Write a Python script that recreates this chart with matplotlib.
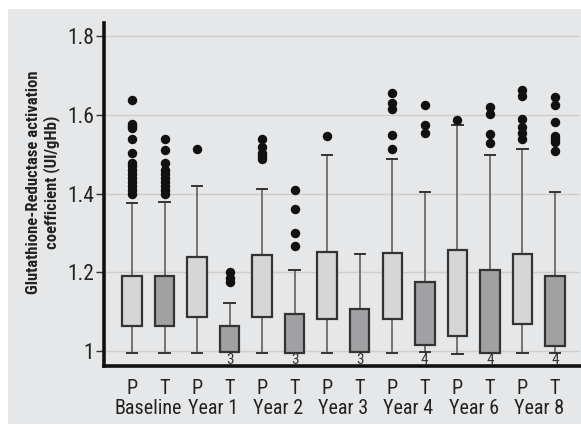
import matplotlib
matplotlib.use("Agg")
import matplotlib.pyplot as plt
from matplotlib import font_manager
from matplotlib.patches import Rectangle
from matplotlib.transforms import blended_transform_factory

# fuente estrecha si existe
fonts = [(f.name, f.stretch) for f in font_manager.fontManager.ttflist]
names = set(n for n, s in fonts)
font = "Liberation Sans"
for cand in ["Liberation Sans Narrow", "Roboto Condensed", "Open Sans Condensed"]:
    if cand in names:
        font = cand
        break
else:
    if any(n == "DejaVu Sans" and s == "condensed" for n, s in fonts):
        font = "DejaVu Sans"
        plt.rcParams['font.stretch'] = "condensed"
plt.rcParams['font.family'] = [font, 'DejaVu Sans']

# Grupos y tratamientos
groups = ["Baseline", "Year 1", "Year 2", "Year 3", "Year 4", "Year 6", "Year 8"]
arms = ["P", "T"]

# Estadisticos de cada caja (P y T alternados por grupo)
q1 = [1.063, 1.064, 1.086, 0.998, 1.086, 0.996, 1.081, 0.997, 1.081, 1.016, 1.039, 0.996, 1.069, 1.013]
med = [1.128, 1.128, 1.149, 1.031, 1.144, 1.021, 1.150, 1.048, 1.149, 1.064, 1.135, 1.043, 1.137, 1.086]
q3 = [1.191, 1.191, 1.238, 1.064, 1.245, 1.093, 1.252, 1.108, 1.250, 1.176, 1.257, 1.207, 1.247, 1.191]
wlo = [0.995, 0.995, 0.995, 0.998, 0.995, 0.996, 0.995, 0.997, 0.995, 0.998, 0.992, 0.996, 0.995, 0.994]
whi = [1.377, 1.379, 1.420, 1.122, 1.412, 1.206, 1.497, 1.247, 1.488, 1.405, 1.574, 1.498, 1.513, 1.403]
fliers = [
    [1.398, 1.41, 1.42, 1.43, 1.44, 1.45, 1.46, 1.47, 1.478, 1.502, 1.540, 1.567, 1.572, 1.577, 1.638],
    [1.398, 1.41, 1.42, 1.43, 1.44, 1.45, 1.46, 1.477, 1.511, 1.538],
    [1.513],
    [1.175, 1.185, 1.200],
    [1.487, 1.495, 1.502, 1.519, 1.538],
    [1.267, 1.299, 1.360, 1.409],
    [1.547],
    [],
    [1.514, 1.548, 1.615, 1.631, 1.656],
    [1.553, 1.574, 1.625],
    [1.587],
    [1.529, 1.551, 1.602, 1.621],
    [1.538, 1.555, 1.570, 1.589, 1.648, 1.663],
    [1.509, 1.532, 1.538, 1.546, 1.583, 1.624, 1.646],
]
# numero de valores en el minimo (debajo de las cajas T)
n_min = ["", "", "", "3", "", "3", "", "3", "", "4", "", "4", "", "4"]

yticks = [1.0, 1.2, 1.4, 1.6, 1.8]
ytick_labels = ["1", "1.2", "1.4", "1.6", "1.8"]

bg = "#e6e7e8"
fill_p = "#d6d6d7"
fill_t = "#a1a1a3"

fig = plt.figure(figsize=(5.81, 4.25), dpi=100, facecolor="white")
fig.patches.append(Rectangle((8 / 581, 1 / 425), 573 / 581, 415 / 425,
                             transform=fig.transFigure, facecolor=bg,
                             edgecolor="none", zorder=-10))
ax = fig.add_axes([104 / 581, 59 / 425, 476 / 581, 343 / 425])
ax.set_facecolor("none")
ax.set_zorder(2)

pos = list(range(1, len(med) + 1))
stats = []
for i in range(len(med)):
    stats.append(dict(q1=q1[i], med=med[i], q3=q3[i], whislo=wlo[i],
                      whishi=whi[i], fliers=fliers[i]))

bp = ax.bxp(stats, positions=pos, widths=0.6, patch_artist=True,
            showfliers=True,
            boxprops=dict(edgecolor="#333333", linewidth=1.6),
            medianprops=dict(color="#333333", linewidth=1.6),
            whiskerprops=dict(color="#6a6a6a", linewidth=1.3),
            capprops=dict(color="#333333", linewidth=1.4),
            capwidths=0.32,
            flierprops=dict(marker="o", markerfacecolor="#111111",
                            markeredgecolor="#111111", markersize=5.8))
for i, b in enumerate(bp["boxes"]):
    b.set_facecolor(fill_p if i % 2 == 0 else fill_t)
    b.set_zorder(3)

for y in yticks:
    ax.axhline(y, color="#cdcdcd", linewidth=1, zorder=0)

ax.set_xlim(0.14, 14.77)
ax.set_ylim(0.962, 1.8335)

for s in ["top", "right"]:
    ax.spines[s].set_visible(False)
for s in ["left", "bottom"]:
    ax.spines[s].set_linewidth(2.6)
    ax.spines[s].set_color("#111111")

ax.set_yticks(yticks)
ax.set_yticklabels(ytick_labels, fontsize=15.5, color="#222222")
ax.tick_params(axis="y", length=6, width=1, color="#333333", pad=1)

ax.set_xticks(pos)
ax.set_xticklabels([arms[i % 2] for i in range(len(pos))], fontsize=14.5,
                   color="#222222")
ax.tick_params(axis="x", length=0, pad=9)

trans = blended_transform_factory(ax.transData, ax.transAxes)
for g, name in enumerate(groups):
    ax.text(2 * g + 1.5, -0.095, name, transform=trans, ha="center",
            va="top", fontsize=14.5, color="#222222")

for i, t in enumerate(n_min):
    if t:
        ax.text(pos[i], 0.977, t, ha="center", va="center", fontsize=11,
                color="#333333")

fig.text(43 / 581, (425 - 182) / 425,
         "Glutathione-Reductase activation\ncoefficient (UI/gHb)",
         rotation=90, ha="center", va="center", ma="center",
         fontsize=12, fontweight="bold", color="#222222")

fig.savefig("out.png", dpi=100, facecolor="white")
